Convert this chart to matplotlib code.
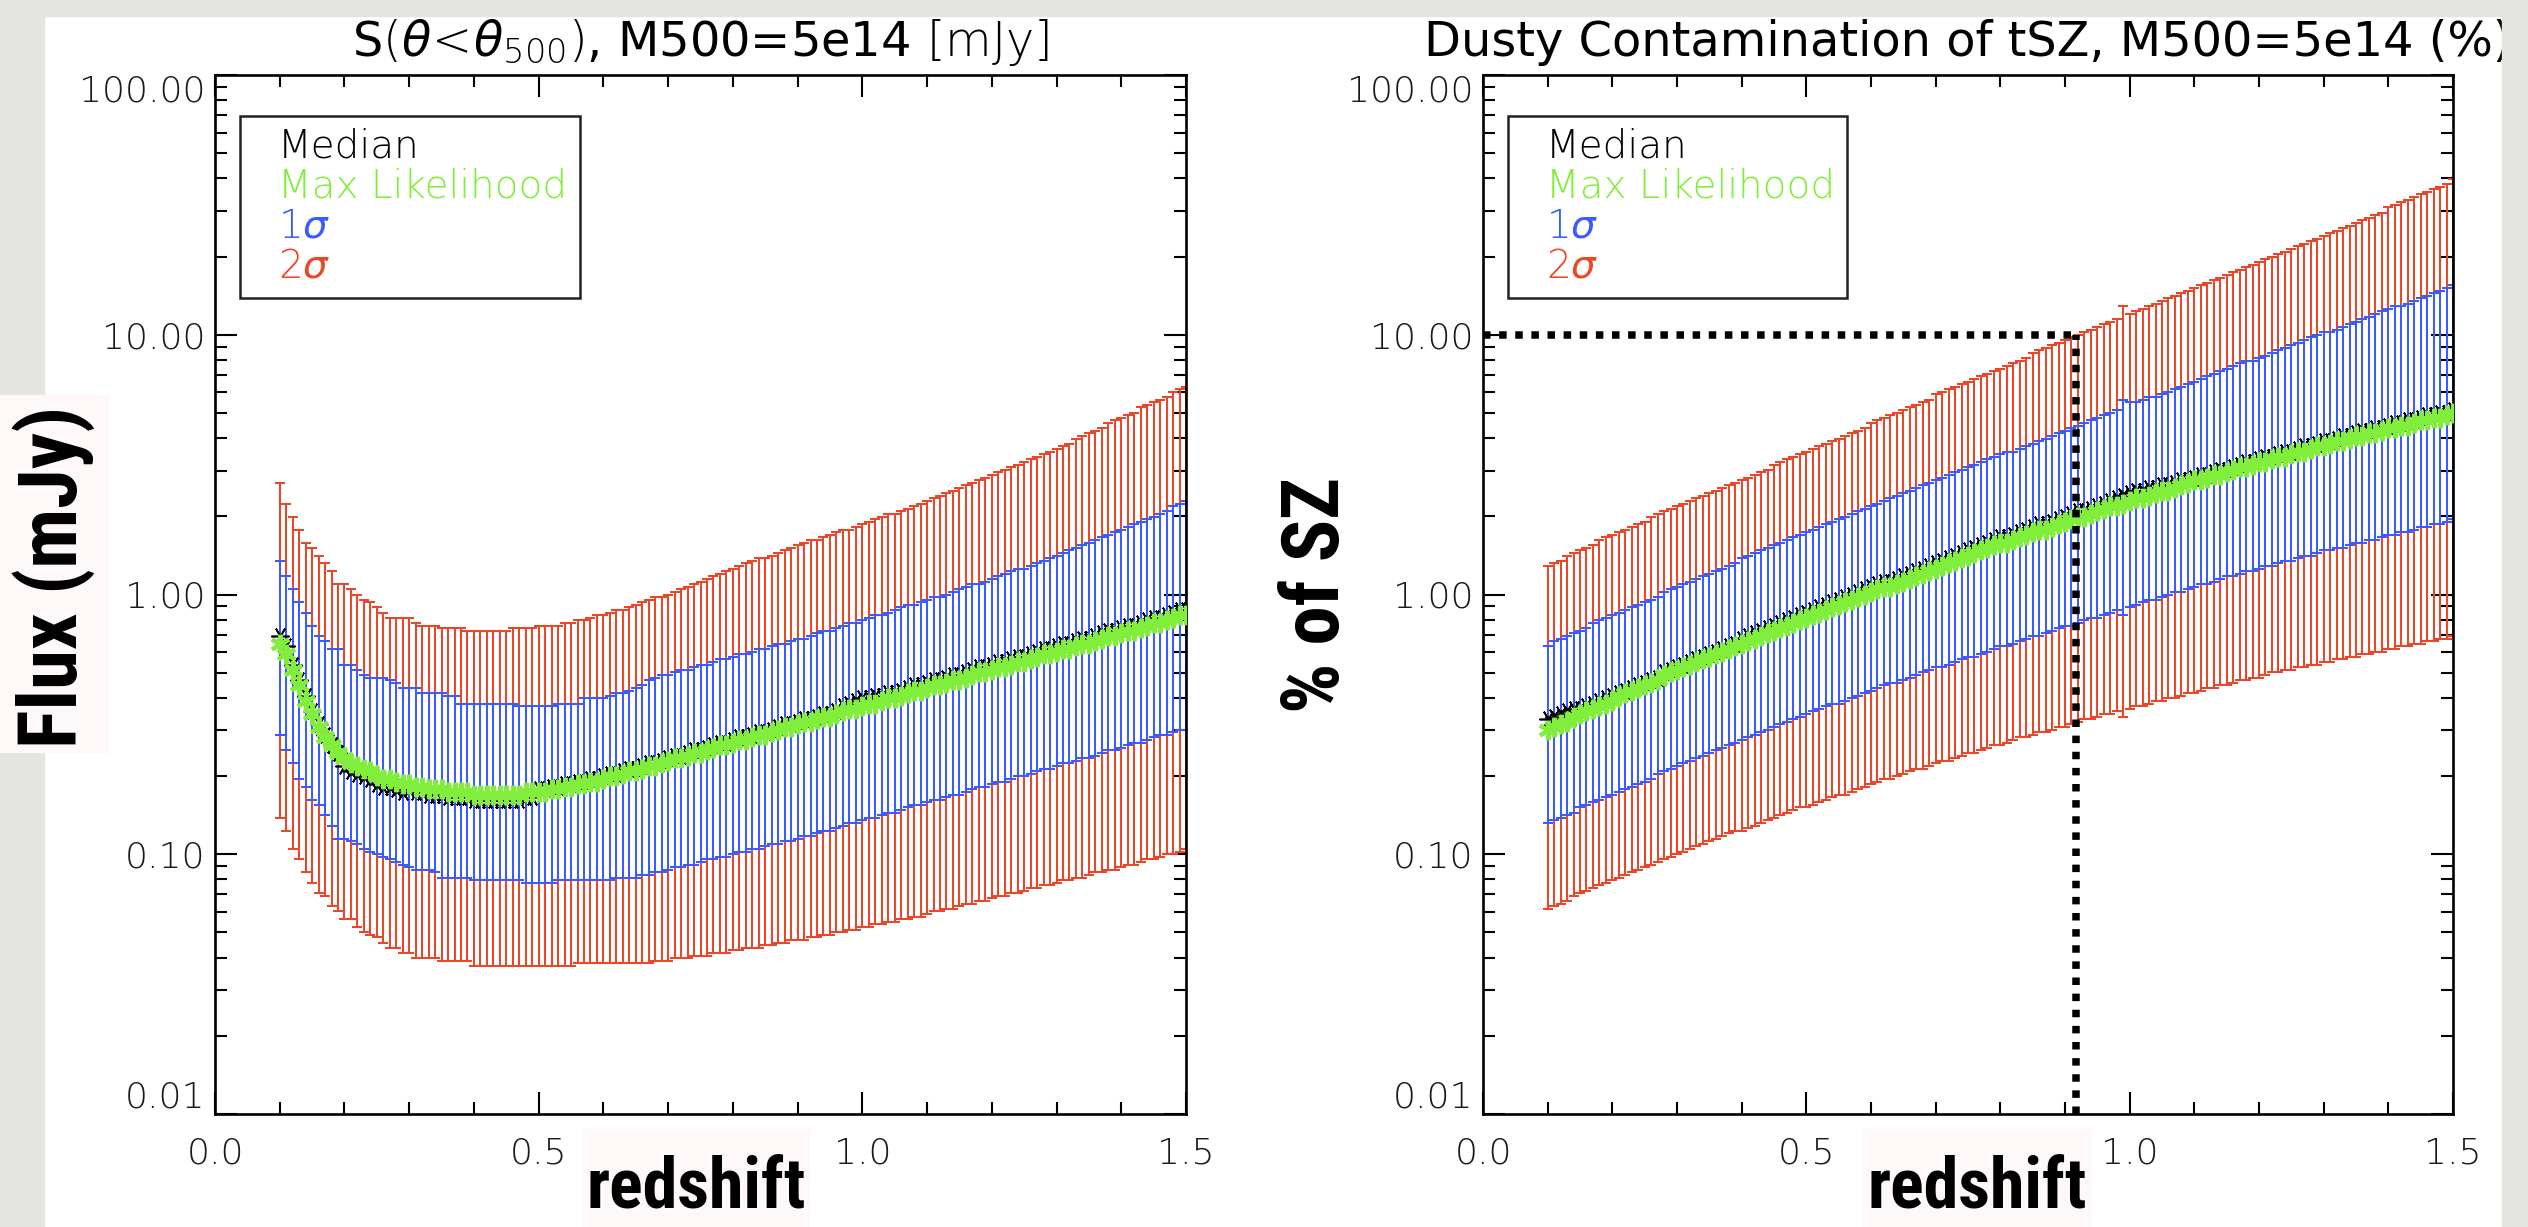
import os
import numpy as np
import matplotlib
matplotlib.use('Agg')
import matplotlib.pyplot as plt
from matplotlib import font_manager as fm
from matplotlib.patches import Rectangle
from matplotlib.ticker import FixedLocator, LogLocator, NullFormatter, FixedFormatter

W, H = 2528, 1227
plt.rcParams['font.family'] = ['DejaVu Sans']
plt.rcParams['font.weight'] = 'light'
plt.rcParams['mathtext.fontset'] = 'dejavusans'

# redshift grid of the error bars (step 0.01)
redshift = np.round(np.arange(0.10, 1.505, 0.01), 2)

# ---- left panel: log10 of flux [mJy] ----
log_flux_2sig_hi = [
    0.43, 0.35, 0.30, 0.25, 0.20, 0.18, 0.15, 0.12, 0.09, 0.04,
    0.04, 0.02, 0.00, -0.02, -0.03, -0.05, -0.07, -0.09, -0.09, -0.09,
    -0.09, -0.11, -0.12, -0.12, -0.12, -0.13, -0.13, -0.13, -0.13, -0.14,
    -0.14, -0.14, -0.14, -0.14, -0.14, -0.14, -0.13, -0.13, -0.13, -0.13,
    -0.12, -0.12, -0.12, -0.12, -0.11, -0.11, -0.10, -0.10, -0.09, -0.08,
    -0.08, -0.07, -0.06, -0.06, -0.05, -0.04, -0.03, -0.02, -0.01, -0.01,
    0.00, 0.01, 0.02, 0.03, 0.04, 0.05, 0.06, 0.07, 0.08, 0.09,
    0.10, 0.11, 0.12, 0.13, 0.14, 0.14, 0.15, 0.16, 0.17, 0.18,
    0.19, 0.20, 0.21, 0.21, 0.22, 0.23, 0.24, 0.25, 0.25, 0.26,
    0.27, 0.28, 0.29, 0.30, 0.31, 0.31, 0.32, 0.33, 0.34, 0.35,
    0.36, 0.37, 0.38, 0.39, 0.40, 0.41, 0.42, 0.43, 0.44, 0.45,
    0.46, 0.47, 0.48, 0.49, 0.50, 0.51, 0.52, 0.53, 0.54, 0.55,
    0.56, 0.57, 0.58, 0.60, 0.61, 0.62, 0.63, 0.64, 0.66, 0.67,
    0.68, 0.69, 0.70, 0.72, 0.73, 0.74, 0.75, 0.76, 0.78, 0.79,
    0.80]
log_flux_1sig_hi = [
    0.13, 0.07, 0.02, -0.03, -0.07, -0.12, -0.16, -0.18, -0.21, -0.21,
    -0.27, -0.27, -0.29, -0.31, -0.32, -0.32, -0.32, -0.33, -0.34, -0.36,
    -0.36, -0.36, -0.38, -0.38, -0.38, -0.38, -0.39, -0.39, -0.42, -0.42,
    -0.42, -0.42, -0.42, -0.42, -0.42, -0.42, -0.42, -0.43, -0.43, -0.43,
    -0.43, -0.43, -0.43, -0.42, -0.42, -0.42, -0.42, -0.40, -0.40, -0.40,
    -0.40, -0.39, -0.38, -0.38, -0.37, -0.36, -0.35, -0.33, -0.32, -0.31,
    -0.31, -0.30, -0.29, -0.29, -0.28, -0.27, -0.27, -0.26, -0.25, -0.25,
    -0.24, -0.23, -0.23, -0.22, -0.21, -0.21, -0.20, -0.19, -0.19, -0.18,
    -0.17, -0.17, -0.16, -0.15, -0.14, -0.14, -0.13, -0.12, -0.11, -0.11,
    -0.10, -0.09, -0.08, -0.08, -0.07, -0.06, -0.05, -0.04, -0.04, -0.03,
    -0.02, -0.01, -0.01, 0.00, 0.01, 0.02, 0.03, 0.04, 0.04, 0.05,
    0.06, 0.07, 0.08, 0.09, 0.10, 0.10, 0.11, 0.12, 0.13, 0.14,
    0.15, 0.16, 0.17, 0.18, 0.19, 0.20, 0.21, 0.22, 0.23, 0.24,
    0.25, 0.26, 0.27, 0.28, 0.29, 0.30, 0.31, 0.32, 0.34, 0.35,
    0.36]
log_flux_maxlike = [
    -0.19, -0.23, -0.29, -0.35, -0.41, -0.46, -0.51, -0.55, -0.58, -0.61,
    -0.63, -0.65, -0.66, -0.67, -0.68, -0.70, -0.71, -0.71, -0.72, -0.73,
    -0.73, -0.74, -0.74, -0.75, -0.75, -0.75, -0.76, -0.76, -0.76, -0.76,
    -0.77, -0.77, -0.77, -0.77, -0.77, -0.77, -0.77, -0.77, -0.76, -0.76,
    -0.76, -0.76, -0.75, -0.75, -0.74, -0.74, -0.73, -0.73, -0.72, -0.72,
    -0.71, -0.70, -0.70, -0.69, -0.68, -0.68, -0.67, -0.66, -0.66, -0.65,
    -0.64, -0.63, -0.63, -0.62, -0.61, -0.61, -0.60, -0.59, -0.58, -0.58,
    -0.57, -0.56, -0.56, -0.55, -0.54, -0.54, -0.53, -0.52, -0.51, -0.51,
    -0.50, -0.49, -0.49, -0.48, -0.47, -0.47, -0.46, -0.45, -0.44, -0.44,
    -0.43, -0.42, -0.42, -0.41, -0.40, -0.40, -0.39, -0.38, -0.37, -0.37,
    -0.36, -0.35, -0.35, -0.34, -0.33, -0.33, -0.32, -0.31, -0.30, -0.30,
    -0.29, -0.28, -0.28, -0.27, -0.26, -0.26, -0.25, -0.24, -0.23, -0.23,
    -0.22, -0.21, -0.21, -0.20, -0.19, -0.19, -0.18, -0.17, -0.16, -0.16,
    -0.15, -0.14, -0.14, -0.13, -0.12, -0.11, -0.11, -0.10, -0.09, -0.08,
    -0.08]
log_flux_median = [
    -0.16, -0.20, -0.27, -0.33, -0.39, -0.45, -0.50, -0.54, -0.58, -0.61,
    -0.66, -0.68, -0.69, -0.70, -0.71, -0.73, -0.74, -0.74, -0.75, -0.76,
    -0.75, -0.76, -0.76, -0.77, -0.77, -0.77, -0.78, -0.78, -0.78, -0.78,
    -0.79, -0.79, -0.79, -0.79, -0.79, -0.79, -0.79, -0.79, -0.78, -0.78,
    -0.75, -0.75, -0.74, -0.74, -0.73, -0.73, -0.72, -0.72, -0.71, -0.71,
    -0.70, -0.69, -0.69, -0.68, -0.67, -0.67, -0.66, -0.65, -0.65, -0.64,
    -0.63, -0.62, -0.62, -0.61, -0.60, -0.60, -0.59, -0.58, -0.57, -0.57,
    -0.56, -0.55, -0.55, -0.54, -0.53, -0.53, -0.52, -0.51, -0.50, -0.50,
    -0.49, -0.48, -0.48, -0.47, -0.46, -0.46, -0.45, -0.43, -0.42, -0.41,
    -0.40, -0.40, -0.39, -0.39, -0.38, -0.38, -0.37, -0.36, -0.35, -0.35,
    -0.34, -0.33, -0.33, -0.32, -0.31, -0.31, -0.30, -0.29, -0.28, -0.28,
    -0.27, -0.26, -0.26, -0.25, -0.24, -0.24, -0.23, -0.22, -0.21, -0.21,
    -0.20, -0.19, -0.19, -0.18, -0.17, -0.17, -0.16, -0.15, -0.14, -0.14,
    -0.13, -0.12, -0.12, -0.11, -0.10, -0.09, -0.09, -0.08, -0.07, -0.06,
    -0.06]
log_flux_1sig_lo = [
    -0.54, -0.60, -0.65, -0.71, -0.74, -0.79, -0.81, -0.85, -0.89, -0.94,
    -0.94, -0.95, -0.96, -0.98, -0.99, -1.00, -1.01, -1.02, -1.03, -1.04,
    -1.05, -1.06, -1.06, -1.06, -1.07, -1.09, -1.09, -1.09, -1.09, -1.09,
    -1.10, -1.10, -1.10, -1.10, -1.10, -1.10, -1.10, -1.10, -1.11, -1.11,
    -1.11, -1.11, -1.11, -1.10, -1.10, -1.10, -1.10, -1.10, -1.10, -1.10,
    -1.10, -1.10, -1.09, -1.09, -1.09, -1.09, -1.08, -1.08, -1.07, -1.07,
    -1.06, -1.05, -1.05, -1.04, -1.04, -1.03, -1.02, -1.02, -1.01, -1.01,
    -1.00, -0.99, -0.99, -0.98, -0.98, -0.97, -0.96, -0.96, -0.95, -0.95,
    -0.94, -0.93, -0.93, -0.92, -0.91, -0.91, -0.90, -0.89, -0.88, -0.88,
    -0.87, -0.86, -0.86, -0.85, -0.84, -0.84, -0.83, -0.82, -0.81, -0.81,
    -0.80, -0.79, -0.79, -0.78, -0.77, -0.77, -0.76, -0.75, -0.74, -0.74,
    -0.73, -0.72, -0.72, -0.71, -0.70, -0.70, -0.69, -0.68, -0.67, -0.67,
    -0.66, -0.65, -0.65, -0.64, -0.63, -0.63, -0.62, -0.61, -0.60, -0.60,
    -0.59, -0.58, -0.57, -0.57, -0.56, -0.55, -0.54, -0.54, -0.53, -0.52,
    -0.52]
log_flux_2sig_lo = [
    -0.86, -0.91, -0.98, -1.02, -1.07, -1.11, -1.15, -1.16, -1.20, -1.22,
    -1.25, -1.25, -1.28, -1.30, -1.31, -1.32, -1.34, -1.36, -1.36, -1.38,
    -1.38, -1.40, -1.40, -1.40, -1.40, -1.41, -1.41, -1.41, -1.41, -1.41,
    -1.43, -1.43, -1.43, -1.43, -1.43, -1.43, -1.43, -1.43, -1.43, -1.43,
    -1.43, -1.43, -1.43, -1.43, -1.43, -1.43, -1.42, -1.42, -1.42, -1.42,
    -1.42, -1.42, -1.42, -1.42, -1.42, -1.42, -1.42, -1.42, -1.41, -1.41,
    -1.41, -1.40, -1.40, -1.40, -1.39, -1.39, -1.39, -1.38, -1.38, -1.38,
    -1.37, -1.37, -1.36, -1.36, -1.36, -1.35, -1.35, -1.34, -1.34, -1.33,
    -1.33, -1.33, -1.32, -1.32, -1.31, -1.31, -1.30, -1.30, -1.29, -1.29,
    -1.28, -1.28, -1.27, -1.27, -1.26, -1.26, -1.25, -1.25, -1.24, -1.24,
    -1.23, -1.22, -1.22, -1.21, -1.21, -1.20, -1.19, -1.19, -1.18, -1.18,
    -1.17, -1.16, -1.16, -1.15, -1.15, -1.14, -1.13, -1.13, -1.12, -1.12,
    -1.11, -1.10, -1.10, -1.09, -1.09, -1.08, -1.07, -1.07, -1.06, -1.06,
    -1.05, -1.04, -1.04, -1.03, -1.02, -1.02, -1.01, -1.00, -1.00, -0.99,
    -0.98]

# ---- right panel: log10 of dusty contamination [% of tSZ] ----
log_pct_2sig_hi = [
    0.11, 0.12, 0.13, 0.15, 0.16, 0.17, 0.18, 0.19, 0.21, 0.22,
    0.23, 0.24, 0.25, 0.26, 0.27, 0.28, 0.30, 0.31, 0.32, 0.33,
    0.34, 0.35, 0.36, 0.37, 0.38, 0.39, 0.40, 0.41, 0.42, 0.43,
    0.44, 0.45, 0.46, 0.47, 0.48, 0.50, 0.51, 0.52, 0.53, 0.54,
    0.55, 0.56, 0.57, 0.58, 0.59, 0.60, 0.61, 0.62, 0.63, 0.64,
    0.66, 0.67, 0.68, 0.69, 0.70, 0.71, 0.72, 0.73, 0.74, 0.75,
    0.77, 0.78, 0.79, 0.80, 0.81, 0.82, 0.83, 0.84, 0.85, 0.86,
    0.87, 0.88, 0.89, 0.90, 0.91, 0.93, 0.94, 0.95, 0.96, 0.97,
    0.98, 0.99, 1.00, 1.01, 1.02, 1.03, 1.04, 1.05, 1.06, 1.11,
    1.08, 1.09, 1.10, 1.11, 1.12, 1.13, 1.14, 1.15, 1.16, 1.17,
    1.18, 1.19, 1.20, 1.21, 1.22, 1.23, 1.24, 1.25, 1.26, 1.27,
    1.28, 1.29, 1.30, 1.31, 1.32, 1.33, 1.34, 1.35, 1.36, 1.37,
    1.38, 1.39, 1.40, 1.41, 1.42, 1.43, 1.44, 1.45, 1.46, 1.47,
    1.49, 1.50, 1.51, 1.52, 1.53, 1.54, 1.55, 1.56, 1.57, 1.58,
    1.60]
log_pct_1sig_hi = [
    -0.20, -0.18, -0.17, -0.16, -0.15, -0.14, -0.13, -0.11, -0.10, -0.09,
    -0.08, -0.07, -0.06, -0.05, -0.04, -0.03, -0.02, -0.01, 0.01, 0.02,
    0.03, 0.04, 0.05, 0.06, 0.07, 0.08, 0.09, 0.10, 0.11, 0.12,
    0.14, 0.15, 0.16, 0.17, 0.18, 0.19, 0.20, 0.21, 0.22, 0.23,
    0.24, 0.25, 0.26, 0.27, 0.28, 0.29, 0.30, 0.31, 0.32, 0.33,
    0.34, 0.35, 0.36, 0.37, 0.38, 0.39, 0.40, 0.41, 0.42, 0.43,
    0.44, 0.45, 0.46, 0.47, 0.48, 0.49, 0.50, 0.51, 0.52, 0.53,
    0.54, 0.55, 0.55, 0.56, 0.57, 0.58, 0.59, 0.60, 0.61, 0.62,
    0.63, 0.64, 0.65, 0.66, 0.67, 0.68, 0.69, 0.70, 0.71, 0.75,
    0.74, 0.74, 0.75, 0.76, 0.76, 0.77, 0.78, 0.79, 0.80, 0.81,
    0.82, 0.83, 0.84, 0.85, 0.86, 0.87, 0.88, 0.89, 0.90, 0.90,
    0.91, 0.92, 0.93, 0.94, 0.95, 0.96, 0.97, 0.98, 0.99, 1.00,
    1.01, 1.01, 1.02, 1.03, 1.04, 1.05, 1.06, 1.07, 1.08, 1.09,
    1.10, 1.11, 1.11, 1.12, 1.13, 1.14, 1.15, 1.16, 1.17, 1.18,
    1.19]
log_pct_maxlike = [
    -0.52, -0.51, -0.50, -0.49, -0.47, -0.46, -0.45, -0.44, -0.43, -0.42,
    -0.41, -0.39, -0.38, -0.37, -0.36, -0.35, -0.34, -0.33, -0.31, -0.30,
    -0.29, -0.28, -0.27, -0.26, -0.25, -0.24, -0.23, -0.22, -0.21, -0.20,
    -0.19, -0.18, -0.17, -0.16, -0.15, -0.14, -0.13, -0.12, -0.11, -0.10,
    -0.09, -0.08, -0.07, -0.06, -0.05, -0.04, -0.03, -0.02, -0.01, 0.00,
    0.01, 0.02, 0.03, 0.03, 0.04, 0.05, 0.06, 0.07, 0.08, 0.09,
    0.10, 0.11, 0.12, 0.13, 0.14, 0.15, 0.16, 0.17, 0.18, 0.19,
    0.20, 0.20, 0.21, 0.22, 0.23, 0.24, 0.25, 0.25, 0.26, 0.27,
    0.28, 0.29, 0.30, 0.30, 0.31, 0.32, 0.33, 0.34, 0.34, 0.35,
    0.36, 0.37, 0.37, 0.38, 0.39, 0.40, 0.40, 0.41, 0.42, 0.43,
    0.44, 0.44, 0.45, 0.46, 0.46, 0.47, 0.48, 0.49, 0.49, 0.50,
    0.51, 0.51, 0.52, 0.53, 0.53, 0.54, 0.55, 0.55, 0.56, 0.57,
    0.57, 0.58, 0.59, 0.59, 0.60, 0.61, 0.61, 0.62, 0.62, 0.63,
    0.64, 0.64, 0.65, 0.65, 0.66, 0.67, 0.67, 0.68, 0.68, 0.69,
    0.70]
log_pct_median = [
    -0.48, -0.47, -0.46, -0.45, -0.44, -0.44, -0.43, -0.42, -0.41, -0.40,
    -0.39, -0.38, -0.37, -0.36, -0.35, -0.34, -0.33, -0.32, -0.30, -0.29,
    -0.28, -0.27, -0.26, -0.25, -0.24, -0.23, -0.22, -0.21, -0.20, -0.19,
    -0.17, -0.16, -0.15, -0.14, -0.13, -0.12, -0.11, -0.10, -0.09, -0.08,
    -0.07, -0.06, -0.05, -0.04, -0.03, -0.02, -0.01, 0.00, 0.01, 0.02,
    0.03, 0.04, 0.05, 0.05, 0.06, 0.07, 0.08, 0.09, 0.10, 0.11,
    0.12, 0.13, 0.14, 0.15, 0.16, 0.17, 0.18, 0.19, 0.20, 0.21,
    0.22, 0.22, 0.23, 0.24, 0.25, 0.26, 0.27, 0.27, 0.28, 0.29,
    0.30, 0.31, 0.32, 0.32, 0.33, 0.34, 0.35, 0.36, 0.37, 0.38,
    0.39, 0.40, 0.40, 0.41, 0.41, 0.42, 0.42, 0.43, 0.44, 0.44,
    0.45, 0.46, 0.46, 0.47, 0.48, 0.48, 0.49, 0.50, 0.51, 0.51,
    0.52, 0.53, 0.53, 0.54, 0.55, 0.55, 0.56, 0.57, 0.57, 0.58,
    0.59, 0.59, 0.60, 0.61, 0.61, 0.62, 0.63, 0.63, 0.64, 0.64,
    0.65, 0.66, 0.66, 0.67, 0.67, 0.68, 0.69, 0.69, 0.70, 0.70,
    0.71]
log_pct_1sig_lo = [
    -0.88, -0.87, -0.86, -0.85, -0.84, -0.82, -0.81, -0.80, -0.79, -0.78,
    -0.77, -0.76, -0.75, -0.74, -0.73, -0.72, -0.71, -0.69, -0.68, -0.67,
    -0.66, -0.65, -0.64, -0.63, -0.62, -0.61, -0.60, -0.59, -0.58, -0.57,
    -0.56, -0.55, -0.54, -0.53, -0.52, -0.51, -0.50, -0.49, -0.48, -0.47,
    -0.46, -0.45, -0.44, -0.43, -0.42, -0.42, -0.41, -0.40, -0.39, -0.38,
    -0.37, -0.36, -0.35, -0.34, -0.34, -0.33, -0.32, -0.31, -0.30, -0.29,
    -0.28, -0.28, -0.27, -0.26, -0.25, -0.24, -0.24, -0.23, -0.22, -0.21,
    -0.20, -0.20, -0.19, -0.18, -0.17, -0.16, -0.16, -0.15, -0.14, -0.13,
    -0.12, -0.12, -0.11, -0.10, -0.09, -0.09, -0.08, -0.07, -0.06, -0.08,
    -0.05, -0.04, -0.03, -0.02, -0.02, -0.01, 0.00, 0.01, 0.01, 0.02,
    0.03, 0.04, 0.04, 0.05, 0.06, 0.07, 0.07, 0.08, 0.09, 0.09,
    0.10, 0.11, 0.11, 0.12, 0.13, 0.13, 0.14, 0.15, 0.15, 0.16,
    0.17, 0.17, 0.18, 0.18, 0.19, 0.20, 0.20, 0.21, 0.21, 0.22,
    0.23, 0.23, 0.24, 0.24, 0.25, 0.26, 0.26, 0.27, 0.27, 0.28,
    0.29]
log_pct_2sig_lo = [
    -1.21, -1.20, -1.19, -1.18, -1.16, -1.15, -1.14, -1.13, -1.12, -1.11,
    -1.10, -1.09, -1.08, -1.07, -1.06, -1.05, -1.04, -1.03, -1.02, -1.01,
    -1.00, -0.99, -0.98, -0.97, -0.96, -0.95, -0.94, -0.93, -0.92, -0.91,
    -0.91, -0.90, -0.89, -0.88, -0.87, -0.86, -0.85, -0.84, -0.83, -0.82,
    -0.82, -0.81, -0.80, -0.79, -0.78, -0.77, -0.77, -0.76, -0.75, -0.74,
    -0.73, -0.72, -0.71, -0.71, -0.70, -0.69, -0.68, -0.67, -0.67, -0.66,
    -0.65, -0.64, -0.64, -0.63, -0.62, -0.61, -0.61, -0.60, -0.59, -0.58,
    -0.58, -0.57, -0.56, -0.55, -0.55, -0.54, -0.53, -0.53, -0.52, -0.51,
    -0.51, -0.50, -0.49, -0.48, -0.48, -0.47, -0.46, -0.46, -0.45, -0.47,
    -0.44, -0.43, -0.43, -0.42, -0.41, -0.41, -0.40, -0.40, -0.39, -0.38,
    -0.38, -0.37, -0.36, -0.36, -0.35, -0.35, -0.34, -0.33, -0.33, -0.32,
    -0.32, -0.31, -0.30, -0.30, -0.29, -0.29, -0.28, -0.28, -0.27, -0.27,
    -0.26, -0.26, -0.25, -0.25, -0.24, -0.24, -0.23, -0.23, -0.22, -0.22,
    -0.21, -0.21, -0.20, -0.20, -0.19, -0.19, -0.18, -0.18, -0.17, -0.17,
    -0.16]

# 10% contamination marker on the right panel
z_mark = 0.917
pct_mark = 10.0

x_major = [0.0, 0.5, 1.0, 1.5]
x_labels = ['0.0', '0.5', '1.0', '1.5']
x_minor = [0.1, 0.2, 0.3, 0.4, 0.6, 0.7, 0.8, 0.9, 1.1, 1.2, 1.3, 1.4]
y_major = [0.01, 0.1, 1.0, 10.0, 100.0]
y_labels = ['0.01', '0.10', '1.00', '10.00', '100.00']

legend_names = ['Median', 'Max Likelihood', r'1$\sigma$', r'2$\sigma$']

RED = '#ec4628'
BLUE = '#3a5cff'
GREEN = '#80ee3a'
GRAY = '#e4e4e0'
BOXCOL = '#fff8f8'
legend_colors = ['black', GREEN, BLUE, RED]

for v in (log_flux_2sig_hi, log_flux_1sig_hi, log_flux_maxlike, log_flux_median,
          log_flux_1sig_lo, log_flux_2sig_lo, log_pct_2sig_hi, log_pct_1sig_hi,
          log_pct_maxlike, log_pct_median, log_pct_1sig_lo, log_pct_2sig_lo):
    assert len(v) == len(redshift), len(v)


def narrow_bold():
    # a condensed bold face (Helvetica Condensed look) for the big slide labels
    files = {}
    for f in fm.fontManager.ttflist:
        files[os.path.splitext(os.path.basename(f.fname))[0].lower()] = f
    for key in ('robotocondensed-bold', 'pragatinarrow-bold', 'archivonarrow-bold',
                'firasanscondensed-bold', 'ibmplexsanscondensed-bold',
                'pt_sans-narrow-web-bold', 'ptsans-narrowbold', 'encodesanscondensed-bold',
                'asapcondensed-bold', 'barlowcondensed-bold', 'sairacondensed-bold',
                'liberationsansnarrow-bold'):
        if key in files:
            return fm.FontProperties(fname=files[key].fname)
    for key in sorted(files):
        f = files[key]
        if '[' not in key and f.weight in (700, 'bold') and f.style == 'normal' \
                and ('condensed' in f.name.lower() or 'narrow' in f.name.lower()):
            return fm.FontProperties(fname=f.fname)
    return fm.FontProperties(family='DejaVu Sans', weight='bold')


def draw_panel(ax, med, ml, lo1, hi1, lo2, hi2):
    for lo, hi, col in ((lo2, hi2, RED), (lo1, hi1, BLUE)):
        lo = 10 ** np.array(lo)
        hi = 10 ** np.array(hi)
        mid = np.sqrt(lo * hi)
        ax.errorbar(redshift, mid, yerr=[mid - lo, hi - mid], fmt='none',
                    ecolor=col, elinewidth=1.45, capsize=3.4, capthick=1.45, zorder=2)
    ax.plot(redshift, 10 ** np.array(med), ls='none', marker=(6, 2, 30), ms=13,
            mew=1.2, color='black', zorder=3)
    ax.plot(redshift, 10 ** np.array(ml), ls='none', marker=(6, 2, 0), ms=14,
            mew=3.0, color=GREEN, zorder=4)


def style_axes(ax, title):
    ax.set_yscale('log')
    ax.set_xlim(0, 1.5)
    ax.set_ylim(0.01, 100)
    ax.xaxis.set_major_locator(FixedLocator(x_major))
    ax.xaxis.set_major_formatter(FixedFormatter(x_labels))
    ax.xaxis.set_minor_locator(FixedLocator(x_minor))
    ax.yaxis.set_major_locator(FixedLocator(y_major))
    ax.yaxis.set_major_formatter(FixedFormatter(y_labels))
    ax.yaxis.set_minor_locator(LogLocator(base=10, subs=np.arange(2, 10)))
    ax.yaxis.set_minor_formatter(NullFormatter())
    ax.tick_params(which='both', direction='in', top=True, right=True,
                   width=1.5, color='black', labelcolor='#1a1a1a')
    ax.tick_params(which='major', length=16, labelsize=26)
    ax.tick_params(which='minor', length=8.5)
    ax.tick_params(axis='x', pad=16)
    ax.tick_params(axis='y', pad=7)
    for sp in ax.spines.values():
        sp.set_linewidth(1.9)
    ax.set_title(title, fontsize=34.5, pad=14)
    ax.add_patch(Rectangle((0.0257, 0.785), 0.350, 0.1755, transform=ax.transAxes,
                           fill=False, lw=1.8, ec='#222222', zorder=5))
    for i, (name, col) in enumerate(zip(legend_names, legend_colors)):
        ax.text(0.0645, 0.921 - i * 0.0387, name, color=col, fontsize=28,
                transform=ax.transAxes, va='baseline', zorder=6)
    ticks = ax.yaxis.get_major_ticks()
    ticks[0].label1.set_verticalalignment('bottom')
    ticks[-1].label1.set_verticalalignment('top')


fig = plt.figure(figsize=(W / 100, H / 100), dpi=100, facecolor='white')
ax1 = fig.add_axes([215 / W, 113 / H, 971 / W, 1039 / H])
ax2 = fig.add_axes([1483 / W, 113 / H, 970 / W, 1039 / H])

draw_panel(ax1, log_flux_median, log_flux_maxlike, log_flux_1sig_lo,
           log_flux_1sig_hi, log_flux_2sig_lo, log_flux_2sig_hi)
draw_panel(ax2, log_pct_median, log_pct_maxlike, log_pct_1sig_lo,
           log_pct_1sig_hi, log_pct_2sig_lo, log_pct_2sig_hi)

style_axes(ax1, r'S$\left(\theta\!<\!\theta_{500}\right)$, M500=5e14 $\left[\mathrm{mJy}\right]$')
style_axes(ax2, 'Dusty Contamination of tSZ, M500=5e14 (%)')

dots = dict(color='black', lw=5.4, ls=(0, (1, 1.15)), dash_capstyle='butt', zorder=7)
ax2.plot([0, z_mark], [pct_mark, pct_mark], **dots)
ax2.plot([z_mark, z_mark], [0.01, pct_mark], **dots)

# grey frame around the white slide area
for x0, y0, w, h in ((0, 0, 44, H), (0, H - 16, W, 16), (2502, 0, W - 2502, H)):
    fig.add_artist(Rectangle((x0 / W, y0 / H), w / W, h / H, transform=fig.transFigure,
                             color=GRAY, zorder=10))

fp = narrow_bold()
renderer = fig.canvas.get_renderer()


def slide_label(x, y, s, length, rotation=0, va='center'):
    # size the label so that its run length matches the slide
    t = fig.text(x / W, (H - y) / H, s, ha='center', va=va,
                 fontproperties=fp.copy(), color='black', zorder=12)
    t.set_fontsize(50)
    width = t.get_window_extent(renderer).width
    t.set_fontsize(50 * length / width)
    t.set_rotation(rotation)
    return t


fig.add_artist(Rectangle((0, (H - 752) / H), 108 / W, 357 / H, transform=fig.transFigure,
                         color=BOXCOL, zorder=11))
slide_label(54, 577, 'Flux (mJy)', 342, rotation=90)
slide_label(1318, 595, '% of SZ', 236, rotation=90)
for bx0, bx1 in ((583, 810), (1863, 2091)):
    fig.add_artist(Rectangle((bx0 / W, 0), (bx1 - bx0) / W, 99 / H,
                             transform=fig.transFigure, color=BOXCOL, zorder=11))
    slide_label((bx0 + bx1) / 2, 1207, 'redshift', 220, va='baseline')

fig.savefig('out.png', dpi=100, facecolor='white')
